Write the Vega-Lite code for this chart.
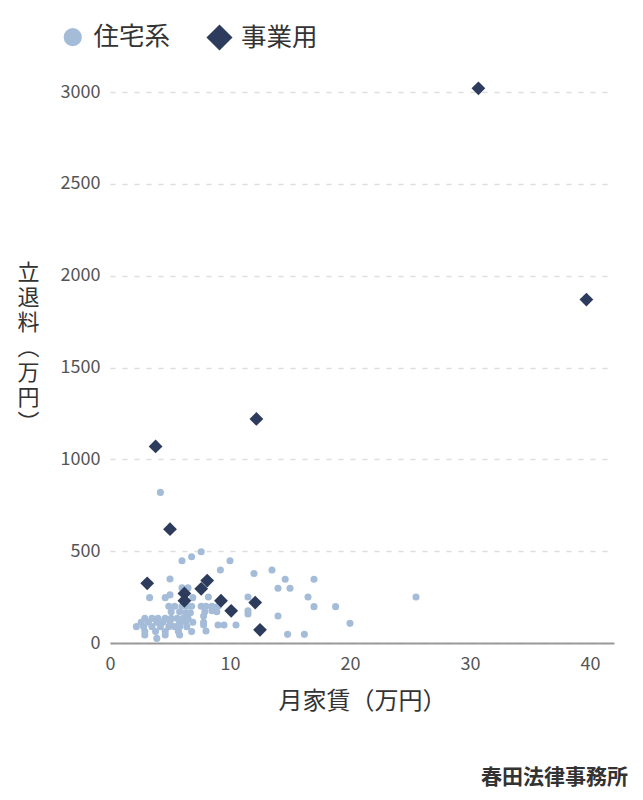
{
  "$schema": "https://vega.github.io/schema/vega-lite/v6.json",
  "width": 504,
  "height": 551,
  "autosize": "none",
  "padding": {"left": 110, "top": 92, "right": 29, "bottom": 157},
  "background": "white",
  "config": {
    "font": "Noto Sans CJK JP",
    "view": {"stroke": null}
  },
  "title": {
    "text": "春田法律事務所",
    "orient": "bottom",
    "anchor": "end",
    "fontSize": 21,
    "fontWeight": "bold",
    "color": "#333333",
    "offset": 54,
    "dx": 14
  },
  "data": {
    "values": [
      {"rent": 4.2, "fee": 820, "type": "住宅系"},
      {"rent": 7.6, "fee": 497, "type": "住宅系"},
      {"rent": 6.8, "fee": 470, "type": "住宅系"},
      {"rent": 6.0, "fee": 448, "type": "住宅系"},
      {"rent": 10.0, "fee": 448, "type": "住宅系"},
      {"rent": 9.2, "fee": 397, "type": "住宅系"},
      {"rent": 12.0, "fee": 378, "type": "住宅系"},
      {"rent": 13.5, "fee": 397, "type": "住宅系"},
      {"rent": 14.6, "fee": 347, "type": "住宅系"},
      {"rent": 17.0, "fee": 347, "type": "住宅系"},
      {"rent": 5.0, "fee": 348, "type": "住宅系"},
      {"rent": 14.0, "fee": 298, "type": "住宅系"},
      {"rent": 15.0, "fee": 298, "type": "住宅系"},
      {"rent": 6.0, "fee": 300, "type": "住宅系"},
      {"rent": 6.5, "fee": 300, "type": "住宅系"},
      {"rent": 8.2, "fee": 250, "type": "住宅系"},
      {"rent": 11.5, "fee": 250, "type": "住宅系"},
      {"rent": 16.5, "fee": 250, "type": "住宅系"},
      {"rent": 25.5, "fee": 250, "type": "住宅系"},
      {"rent": 3.3, "fee": 247, "type": "住宅系"},
      {"rent": 4.6, "fee": 247, "type": "住宅系"},
      {"rent": 5.0, "fee": 262, "type": "住宅系"},
      {"rent": 6.9, "fee": 247, "type": "住宅系"},
      {"rent": 8.5, "fee": 176, "type": "住宅系"},
      {"rent": 11.5, "fee": 176, "type": "住宅系"},
      {"rent": 11.5, "fee": 158, "type": "住宅系"},
      {"rent": 17.0, "fee": 198, "type": "住宅系"},
      {"rent": 18.8, "fee": 198, "type": "住宅系"},
      {"rent": 14.0, "fee": 147, "type": "住宅系"},
      {"rent": 7.8, "fee": 147, "type": "住宅系"},
      {"rent": 7.8, "fee": 98, "type": "住宅系"},
      {"rent": 9.0, "fee": 98, "type": "住宅系"},
      {"rent": 9.5, "fee": 98, "type": "住宅系"},
      {"rent": 10.5, "fee": 98, "type": "住宅系"},
      {"rent": 20.0, "fee": 107, "type": "住宅系"},
      {"rent": 8.0, "fee": 65, "type": "住宅系"},
      {"rent": 14.8, "fee": 47, "type": "住宅系"},
      {"rent": 16.2, "fee": 47, "type": "住宅系"},
      {"rent": 4.9, "fee": 200, "type": "住宅系"},
      {"rent": 5.4, "fee": 200, "type": "住宅系"},
      {"rent": 6.0, "fee": 200, "type": "住宅系"},
      {"rent": 6.4, "fee": 200, "type": "住宅系"},
      {"rent": 6.8, "fee": 200, "type": "住宅系"},
      {"rent": 7.6, "fee": 200, "type": "住宅系"},
      {"rent": 8.0, "fee": 200, "type": "住宅系"},
      {"rent": 8.5, "fee": 200, "type": "住宅系"},
      {"rent": 9.0, "fee": 200, "type": "住宅系"},
      {"rent": 5.1, "fee": 170, "type": "住宅系"},
      {"rent": 5.8, "fee": 170, "type": "住宅系"},
      {"rent": 6.3, "fee": 165, "type": "住宅系"},
      {"rent": 6.7, "fee": 165, "type": "住宅系"},
      {"rent": 7.9, "fee": 170, "type": "住宅系"},
      {"rent": 8.9, "fee": 170, "type": "住宅系"},
      {"rent": 2.9, "fee": 134, "type": "住宅系"},
      {"rent": 3.5, "fee": 134, "type": "住宅系"},
      {"rent": 4.0, "fee": 134, "type": "住宅系"},
      {"rent": 4.6, "fee": 134, "type": "住宅系"},
      {"rent": 5.1, "fee": 134, "type": "住宅系"},
      {"rent": 5.6, "fee": 134, "type": "住宅系"},
      {"rent": 6.1, "fee": 134, "type": "住宅系"},
      {"rent": 6.5, "fee": 134, "type": "住宅系"},
      {"rent": 2.6, "fee": 113, "type": "住宅系"},
      {"rent": 3.2, "fee": 113, "type": "住宅系"},
      {"rent": 3.9, "fee": 113, "type": "住宅系"},
      {"rent": 4.4, "fee": 113, "type": "住宅系"},
      {"rent": 5.0, "fee": 113, "type": "住宅系"},
      {"rent": 5.8, "fee": 113, "type": "住宅系"},
      {"rent": 6.3, "fee": 113, "type": "住宅系"},
      {"rent": 6.9, "fee": 113, "type": "住宅系"},
      {"rent": 7.8, "fee": 113, "type": "住宅系"},
      {"rent": 2.2, "fee": 89, "type": "住宅系"},
      {"rent": 2.8, "fee": 89, "type": "住宅系"},
      {"rent": 3.5, "fee": 89, "type": "住宅系"},
      {"rent": 4.2, "fee": 89, "type": "住宅系"},
      {"rent": 4.9, "fee": 89, "type": "住宅系"},
      {"rent": 5.4, "fee": 89, "type": "住宅系"},
      {"rent": 5.8, "fee": 89, "type": "住宅系"},
      {"rent": 6.4, "fee": 89, "type": "住宅系"},
      {"rent": 2.9, "fee": 62, "type": "住宅系"},
      {"rent": 3.8, "fee": 62, "type": "住宅系"},
      {"rent": 4.6, "fee": 62, "type": "住宅系"},
      {"rent": 5.7, "fee": 62, "type": "住宅系"},
      {"rent": 6.8, "fee": 62, "type": "住宅系"},
      {"rent": 2.9, "fee": 44, "type": "住宅系"},
      {"rent": 4.6, "fee": 44, "type": "住宅系"},
      {"rent": 5.8, "fee": 44, "type": "住宅系"},
      {"rent": 3.9, "fee": 25, "type": "住宅系"},
      {"rent": 30.7, "fee": 3020, "type": "事業用"},
      {"rent": 39.7, "fee": 1870, "type": "事業用"},
      {"rent": 12.2, "fee": 1220, "type": "事業用"},
      {"rent": 3.8, "fee": 1070, "type": "事業用"},
      {"rent": 5.0, "fee": 620, "type": "事業用"},
      {"rent": 3.1, "fee": 325, "type": "事業用"},
      {"rent": 8.1, "fee": 340, "type": "事業用"},
      {"rent": 7.6, "fee": 295, "type": "事業用"},
      {"rent": 6.2, "fee": 270, "type": "事業用"},
      {"rent": 6.2, "fee": 230, "type": "事業用"},
      {"rent": 9.25, "fee": 230, "type": "事業用"},
      {"rent": 10.1, "fee": 175, "type": "事業用"},
      {"rent": 12.1, "fee": 220, "type": "事業用"},
      {"rent": 12.5, "fee": 72, "type": "事業用"}
    ]
  },
  "encoding": {
    "x": {
      "field": "rent",
      "type": "quantitative",
      "scale": {"domain": [0, 42], "nice": false, "zero": true},
      "axis": {
        "title": "月家賃（万円）",
        "titleFontSize": 24,
        "titleFontWeight": "normal",
        "titleColor": "#333333",
        "titlePadding": 16,
        "values": [0, 10, 20, 30, 40],
        "format": "d",
        "labelFlush": false,
        "labelFontSize": 18,
        "labelColor": "#555555",
        "labelPadding": 12,
        "ticks": false,
        "grid": false,
        "domainColor": "#999999",
        "domainWidth": 2
      }
    },
    "y": {
      "field": "fee",
      "type": "quantitative",
      "scale": {"domain": [0, 3000], "nice": false},
      "axis": {
        "title": ["立", "退", "料", "︵", "万", "円", "︶"],
        "titleAngle": 0,
        "titleFontSize": 22,
        "titleFontWeight": "normal",
        "titleColor": "#333333",
        "titleLineHeight": 25,
        "titleAlign": "center",
        "titleBaseline": "middle",
        "titleX": -82,
        "titleY": 180,
        "values": [0, 500, 1000, 1500, 2000, 2500, 3000],
        "format": "d",
        "labelFontSize": 18,
        "labelColor": "#555555",
        "labelPadding": 10,
        "ticks": false,
        "domain": false,
        "grid": true,
        "gridColor": "#dddddd",
        "gridWidth": 1.5,
        "gridDash": [5, 7]
      }
    },
    "color": {
      "field": "type",
      "type": "nominal",
      "scale": {"domain": ["住宅系", "事業用"], "range": ["#a5bcd9", "#2d3c5c"]},
      "legend": {
        "title": null,
        "orient": "none",
        "direction": "horizontal",
        "legendX": -50,
        "legendY": -68,
        "labelFontSize": 25.5,
        "labelColor": "#333333",
        "labelOffset": 8,
        "columnPadding": 35,
        "symbolStrokeWidth": 0,
        "symbolOpacity": 1
      }
    },
    "shape": {
      "field": "type",
      "type": "nominal",
      "scale": {"domain": ["住宅系", "事業用"], "range": ["circle", "diamond"]},
      "legend": {
        "title": null,
        "orient": "none",
        "direction": "horizontal",
        "legendX": -50,
        "legendY": -68,
        "labelFontSize": 25.5,
        "labelColor": "#333333",
        "labelOffset": 8,
        "columnPadding": 35,
        "symbolStrokeWidth": 0,
        "symbolOpacity": 1
      }
    }
  },
  "layer": [
    {
      "mark": {"type": "point", "filled": true, "opacity": 0, "clip": false},
      "encoding": {
        "size": {
          "field": "type",
          "type": "nominal",
          "scale": {"domain": ["住宅系", "事業用"], "range": [330, 680]},
          "legend": {
            "title": null,
            "orient": "none",
            "direction": "horizontal",
            "legendX": -50,
            "legendY": -68,
            "labelFontSize": 25.5,
            "labelColor": "#333333",
            "labelOffset": 8,
            "columnPadding": 35,
            "symbolStrokeWidth": 0,
            "symbolOpacity": 1
          }
        }
      }
    },
    {
      "transform": [{"filter": "datum.type === '住宅系'"}],
      "mark": {"type": "point", "filled": true, "opacity": 1, "size": 50, "clip": false}
    },
    {
      "transform": [{"filter": "datum.type === '事業用'"}],
      "mark": {"type": "point", "filled": true, "opacity": 1, "size": 190, "clip": false}
    }
  ]
}
